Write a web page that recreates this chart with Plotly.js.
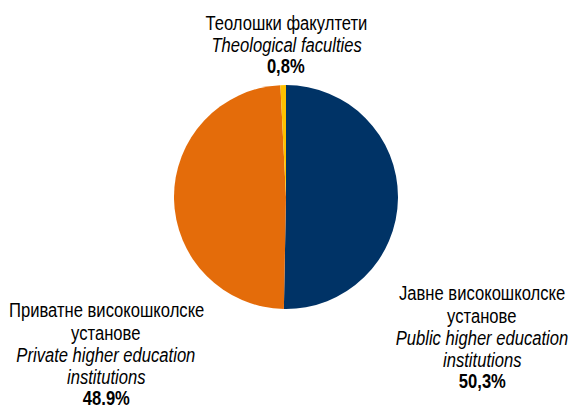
<!DOCTYPE html>
<html><head><meta charset="utf-8">
<script src="https://cdn.plot.ly/plotly-3.0.1.min.js"></script>
<style>html,body{margin:0;padding:0;background:#fff}#c{width:568px;height:407px}</style>
</head><body><div id="c"></div>
<script>
const categories = ["Јавне високошколске установе", "Приватне високошколске установе", "Теолошки факултети"];
const categoriesEn = ["Public higher education institutions", "Private higher education institutions", "Theological faculties"];
const shares = [50.3, 48.9, 0.8];
const shareLabels = ["50,3%", "48.9%", "0,8%"];

const W = 568, H = 407;
const F = "'Liberation Sans', Arial, sans-serif";
const FS = 20;
const NARROW = 0.83;
const py = y => 1 - y / H;
const px = x => x / W;

const trace = {
  type: 'pie',
  labels: categories,
  values: shares,
  sort: false,
  direction: 'clockwise',
  rotation: 0,
  textinfo: 'none',
  hoverinfo: 'none',
  showlegend: false,
  marker: {colors: ['#003366', '#E46C0A', '#FFC000'], line: {width: 0}},
  domain: {x: [px(174), px(398)], y: [py(309), py(85)]}
};

// y values are text baselines in pixels
function lines(x, ys, texts) {
  return texts.map((t, i) => ({
    x: px(x), y: py(ys[i] - 7), xref: 'paper', yref: 'paper',
    xanchor: 'center', yanchor: 'middle', showarrow: false,
    text: t, font: {family: F, size: FS, color: '#000'}
  }));
}

const ann = [].concat(
  lines(286, [30, 52, 73], [categories[2], '<i>' + categoriesEn[2] + '</i>', '<b>' + shareLabels[2] + '</b>']),
  lines(482, [300, 323, 345, 367, 388], ['Јавне високошколске', 'установе', '<i>Public higher education</i>', '<i>institutions</i>', '<b>' + shareLabels[0] + '</b>']),
  lines(106, [317, 340, 362, 384, 405], ['Приватне високошколске', 'установе', '<i>Private higher education</i>', '<i>institutions</i>', '<b>' + shareLabels[1] + '</b>'])
);

Plotly.newPlot('c', [trace], {
  width: W, height: H,
  margin: {l: 0, r: 0, t: 0, b: 0},
  paper_bgcolor: '#fff',
  annotations: ann
}, {displayModeBar: false, staticPlot: true}).then(gd => {
  // emulate a narrow (condensed) typeface
  gd.querySelectorAll('.annotation-text').forEach(t => {
    const L = t.getComputedTextLength();
    const d = L * (1 - NARROW);
    t.setAttribute('textLength', (L * NARROW).toFixed(1));
    t.setAttribute('lengthAdjust', 'spacingAndGlyphs');
    const r = t.parentNode.querySelector('rect.bg');
    if (r) {
      const w = parseFloat(r.getAttribute('width')) || 0;
      const x = parseFloat(r.getAttribute('x')) || 0;
      r.setAttribute('width', Math.max(0, w - d).toFixed(1));
      r.setAttribute('x', (x + d / 2).toFixed(1));
    }
  });
});
</script></body></html>
